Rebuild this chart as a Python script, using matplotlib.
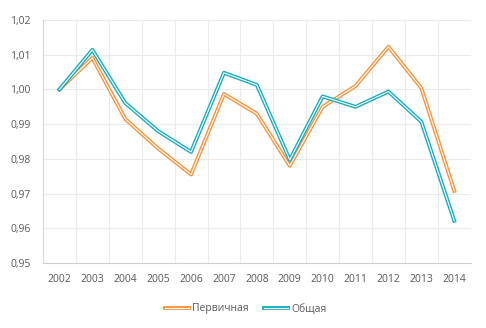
import matplotlib.pyplot as plt
import matplotlib.patheffects as pe
from matplotlib.ticker import FuncFormatter, MultipleLocator

# Данные
years = ["2002", "2003", "2004", "2005", "2006", "2007", "2008",
         "2009", "2010", "2011", "2012", "2013", "2014"]
pervichnaya = [1.000, 1.0091, 0.9915, 0.983, 0.9755, 0.9987, 0.993,
               0.978, 0.995, 1.001, 1.0123, 1.0004, 0.9708]
obshaya = [1.000, 1.0114, 0.9961, 0.988, 0.982, 1.0048, 1.0013,
           0.9797, 0.998, 0.995, 0.9994, 0.9907, 0.9622]
series_names = ["Первичная", "Общая"]
series_colors = ["#F7963F", "#1AADC4"]

plt.rcParams['font.family'] = ['Open Sans', 'DejaVu Sans']

fig = plt.figure(figsize=(4.86, 3.28), dpi=100)
ax = fig.add_axes([0.0885, 0.198, 0.88, 0.741])

x = list(range(len(years)))
for vals, name, col in zip([pervichnaya, obshaya], series_names, series_colors):
    # двойная линия: цветная обводка и белая середина
    ax.plot(x, vals, color="white", lw=0.8, label=name,
            path_effects=[pe.Stroke(linewidth=2.8, foreground=col), pe.Normal()])

ax.set_xlim(-0.5, len(years) - 0.5)
ax.set_ylim(0.95, 1.02)
ax.set_xticks(x)
ax.set_xticklabels(years)
ax.set_xticks([i - 0.5 for i in range(len(years) + 1)], minor=True)
ax.yaxis.set_major_locator(MultipleLocator(0.01))
ax.yaxis.set_major_formatter(FuncFormatter(lambda v, p: f"{v:.2f}".replace(".", ",")))

ax.grid(True, which="major", axis="y", color="#EBEBEB", lw=0.8)
ax.grid(True, which="minor", axis="x", color="#EBEBEB", lw=0.8)
ax.set_axisbelow(True)
ax.tick_params(which="both", length=0)
ax.tick_params(axis="y", pad=9, labelsize=7.5, labelcolor="#595959")
ax.tick_params(axis="x", pad=8, labelsize=7.5, labelcolor="#595959")

for side in ["top", "right"]:
    ax.spines[side].set_visible(False)
ax.spines["left"].set_color("#D9D9D9")
ax.spines["bottom"].set_color("#D0D0D0")

leg = fig.legend(loc="center", bbox_to_anchor=(0.505, 0.058), ncol=2, frameon=False,
                 fontsize=7.5, handlelength=2.3, columnspacing=1.5, handletextpad=0.3)
for t in leg.get_texts():
    t.set_color("#595959")

fig.savefig("out.png", dpi=100)
